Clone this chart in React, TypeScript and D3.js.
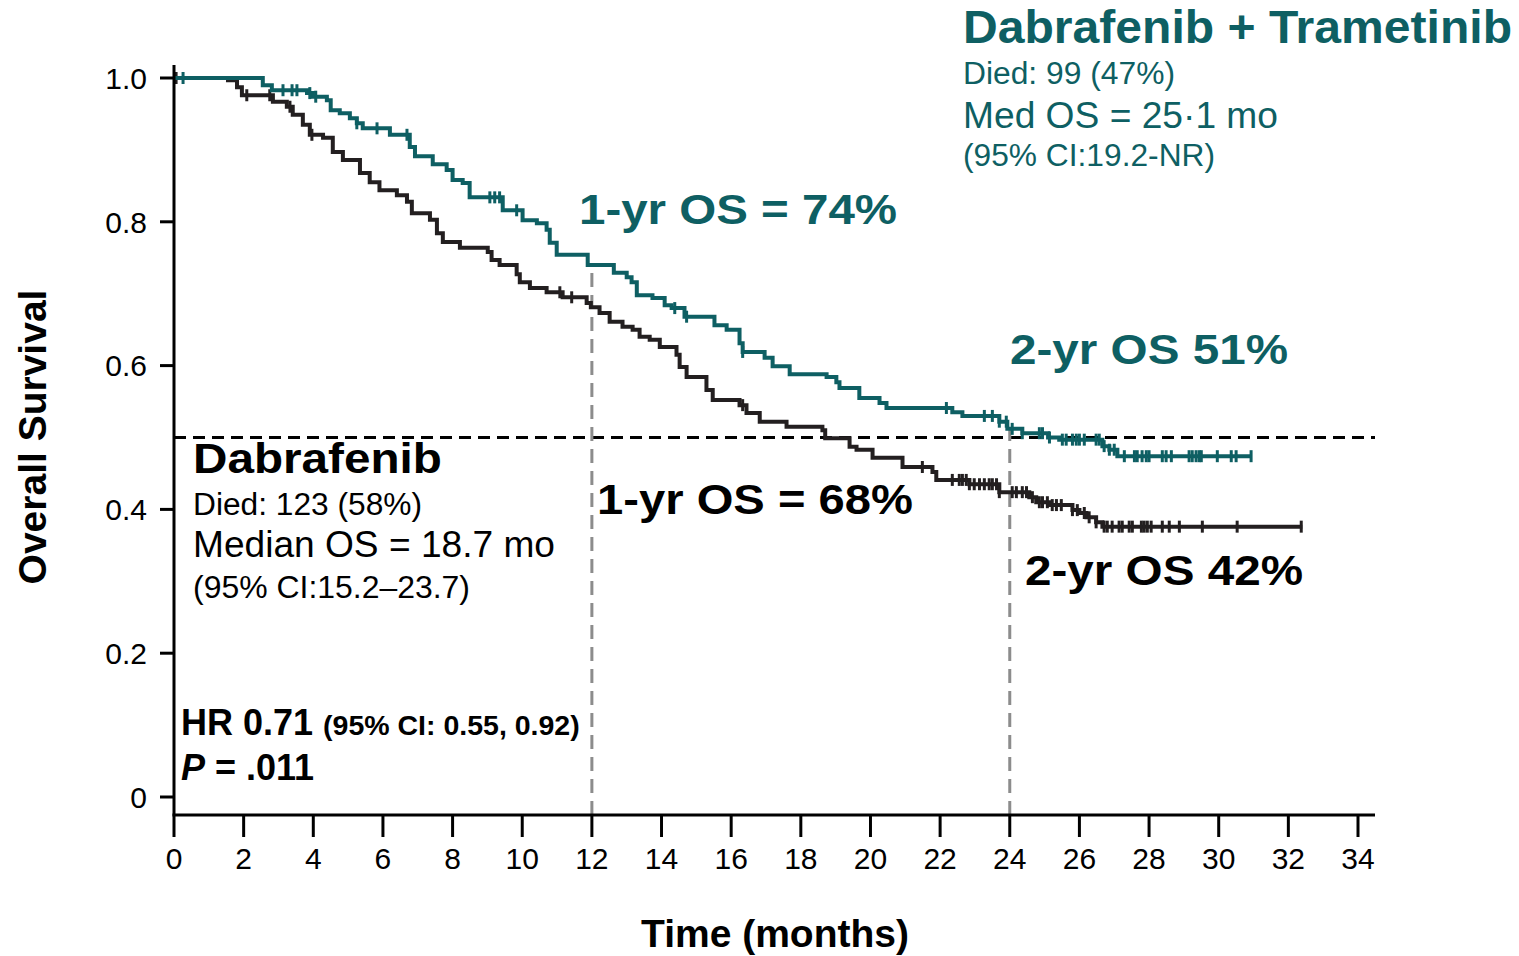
import React from "react";
import * as d3 from "d3";

const TEAL = "#0e5f63";
const DARK = "#231f20";
const GREY = "#8c8c8c";
const FONT = "Arial, 'Liberation Sans', Helvetica, sans-serif";

// Dabrafenib + Trametinib: event times (months) and KM survival after each step
const comboTimes = [0, 2.55, 2.81, 3.82, 3.99, 4.39, 4.5, 4.76, 5.05, 5.25, 5.42, 6.2, 6.77, 6.92, 7.43, 7.83, 8.0, 8.29, 8.49, 9.44, 10.01, 10.42, 10.7, 10.79, 10.99, 11.88, 12.63, 13.0, 13.14, 13.29, 13.74, 14.09, 14.29, 14.66, 15.52, 15.87, 16.24, 16.33, 16.96, 17.19, 17.68, 18.74, 19.02, 19.11, 19.68, 20.26, 20.46, 22.35, 22.64, 23.7, 23.93, 24.36, 25.1, 25.42, 26.66, 26.86, 27.09];
const comboSurvival = [1, 0.99, 0.983, 0.979, 0.974, 0.969, 0.955, 0.951, 0.944, 0.937, 0.93, 0.921, 0.904, 0.891, 0.88, 0.872, 0.858, 0.854, 0.834, 0.816, 0.802, 0.798, 0.789, 0.771, 0.754, 0.74, 0.729, 0.723, 0.716, 0.698, 0.694, 0.684, 0.68, 0.668, 0.656, 0.65, 0.631, 0.619, 0.611, 0.599, 0.588, 0.584, 0.577, 0.569, 0.555, 0.548, 0.541, 0.535, 0.53, 0.522, 0.512, 0.506, 0.5, 0.497, 0.488, 0.483, 0.474];
const comboLastFollowUp = 30.95;
const comboCensored = [0.26, 3.13, 3.39, 3.53, 3.9, 4.07, 5.25, 5.83, 6.69, 9.07, 9.21, 9.35, 9.84, 14.38, 14.72, 16.33, 22.18, 23.27, 23.5, 23.7, 23.9, 24.07, 24.36, 24.85, 24.94, 25.14, 25.51, 25.62, 25.8, 25.91, 26.0, 26.14, 26.48, 26.57, 26.71, 26.86, 27.0, 27.29, 27.58, 27.66, 27.8, 27.92, 28.0, 28.38, 28.49, 28.64, 29.15, 29.24, 29.35, 29.44, 29.5, 29.96, 30.36, 30.5, 30.93];

// Dabrafenib monotherapy
const monoTimes = [0, 1.55, 1.81, 1.95, 2.84, 3.24, 3.41, 3.7, 3.9, 4.28, 4.56, 4.85, 5.34, 5.62, 5.9, 6.4, 6.69, 6.83, 7.35, 7.55, 7.72, 8.21, 9.01, 9.12, 9.35, 9.84, 9.93, 10.22, 10.7, 11.16, 11.85, 11.97, 12.22, 12.51, 12.88, 13.17, 13.37, 13.66, 13.95, 14.43, 14.52, 14.72, 15.29, 15.47, 16.24, 16.44, 16.82, 17.59, 18.62, 18.7, 19.4, 19.6, 20.06, 20.92, 21.78, 21.89, 22.84, 23.7, 24.56, 24.76, 25.14, 25.8, 26.0, 26.2, 26.48, 26.66];
const monoSurvival = [1, 0.997, 0.987, 0.976, 0.967, 0.96, 0.949, 0.935, 0.921, 0.917, 0.897, 0.886, 0.868, 0.855, 0.844, 0.837, 0.828, 0.812, 0.803, 0.784, 0.772, 0.764, 0.758, 0.747, 0.74, 0.727, 0.716, 0.708, 0.702, 0.695, 0.687, 0.681, 0.673, 0.661, 0.654, 0.65, 0.64, 0.636, 0.626, 0.615, 0.598, 0.584, 0.566, 0.552, 0.545, 0.534, 0.522, 0.515, 0.51, 0.499, 0.487, 0.483, 0.472, 0.459, 0.452, 0.441, 0.435, 0.424, 0.417, 0.41, 0.406, 0.399, 0.395, 0.389, 0.382, 0.376];
const monoLastFollowUp = 32.4;
const monoCensored = [0.06, 2.09, 2.75, 3.33, 3.96, 11.08, 11.42, 16.33, 21.49, 22.35, 22.55, 22.64, 22.75, 22.84, 22.98, 23.13, 23.27, 23.41, 23.5, 23.62, 23.7, 24.07, 24.19, 24.36, 24.48, 24.65, 24.85, 24.94, 25.08, 25.22, 25.34, 25.48, 25.8, 25.94, 26.14, 26.28, 26.48, 26.71, 26.8, 26.94, 27.14, 27.23, 27.43, 27.52, 27.78, 27.86, 27.95, 28.06, 28.38, 28.58, 28.87, 29.53, 30.53, 32.37];

const xTickValues = [0, 2, 4, 6, 8, 10, 12, 14, 16, 18, 20, 22, 24, 26, 28, 30, 32, 34];
const yTickValues = [0, 0.2, 0.4, 0.6, 0.8, 1.0];
const yTickLabels = ["0", "0.2", "0.4", "0.6", "0.8", "1.0"];
const landmarkMonths = [12, 24];
const medianLevel = 0.5;

type Pt = [number, number];

function survivalAt(times: number[], surv: number[], t: number): number {
  let s = surv[0];
  for (let i = 0; i < times.length; i++) if (times[i] <= t) s = surv[i];
  return s;
}

function stepPoints(times: number[], surv: number[], end: number): Pt[] {
  const pts: Pt[] = times.map((t, i) => [t, surv[i]] as Pt);
  pts.push([end, surv[surv.length - 1]]);
  return pts;
}

export default function App() {
  const x = d3.scaleLinear().domain([0, 34]).range([174, 1358]);
  const y = d3.scaleLinear().domain([0, 1]).range([797, 78]);
  const axisY = 815;
  const axisRight = 1375;
  const axisTop = 65;

  const line = d3
    .line<Pt>()
    .x((d) => x(d[0]))
    .y((d) => y(d[1]))
    .curve(d3.curveStepAfter);

  const arms = [
    { key: "mono", color: DARK, times: monoTimes, surv: monoSurvival, end: monoLastFollowUp, censored: monoCensored },
    { key: "combo", color: TEAL, times: comboTimes, surv: comboSurvival, end: comboLastFollowUp, censored: comboCensored },
  ];

  return (
    <svg
      width={1519}
      height={956}
      style={{ position: "absolute", left: 0, top: 0, background: "#fff" }}
      fontFamily={FONT}
    >
      {/* reference lines */}
      <line
        x1={x(0)}
        x2={axisRight}
        y1={y(medianLevel)}
        y2={y(medianLevel)}
        stroke="#000"
        strokeWidth={3}
        strokeDasharray="12 7"
      />
      {landmarkMonths.map((m) => (
        <line
          key={m}
          x1={x(m)}
          x2={x(m)}
          y1={axisY}
          y2={y(survivalAt(comboTimes, comboSurvival, m))}
          stroke={GREY}
          strokeWidth={3}
          strokeDasharray="14 8"
        />
      ))}

      {/* survival curves with censoring marks */}
      {arms.map((a) => (
        <g key={a.key}>
          <path d={line(stepPoints(a.times, a.surv, a.end)) || ""} fill="none" stroke={a.color} strokeWidth={4} />
          {a.censored.map((t, i) => {
            const cy = y(survivalAt(a.times, a.surv, t));
            return <line key={i} x1={x(t)} x2={x(t)} y1={cy - 6} y2={cy + 6} stroke={a.color} strokeWidth={3} />;
          })}
        </g>
      ))}

      {/* axes */}
      <line x1={x(0)} x2={x(0)} y1={axisTop} y2={axisY} stroke="#000" strokeWidth={3} />
      <line x1={x(0) - 1.5} x2={axisRight} y1={axisY} y2={axisY} stroke="#000" strokeWidth={3} />
      {yTickValues.map((v, i) => (
        <g key={v}>
          <line x1={x(0) - 14} x2={x(0)} y1={y(v)} y2={y(v)} stroke="#000" strokeWidth={3} />
          <text x={147} y={y(v)} dy="0.36em" textAnchor="end" fontSize={30} fill="#000">
            {yTickLabels[i]}
          </text>
        </g>
      ))}
      {xTickValues.map((v) => (
        <g key={v}>
          <line x1={x(v)} x2={x(v)} y1={axisY} y2={axisY + 22} stroke="#000" strokeWidth={3} />
          <text x={x(v)} y={869} textAnchor="middle" fontSize={30} fill="#000">
            {v}
          </text>
        </g>
      ))}
      <text
        transform="translate(46,437) rotate(-90)"
        textAnchor="middle"
        fontSize={39}
        fontWeight="bold"
        fill="#000"
      >
        Overall Survival
      </text>
      <text x={775} y={947} textAnchor="middle" fontSize={39} fontWeight="bold" fill="#000">
        Time (months)
      </text>

      {/* combination arm summary */}
      <text x={963} y={43} fontSize={46} fontWeight="bold" fill={TEAL} textLength={549} lengthAdjust="spacingAndGlyphs">
        Dabrafenib + Trametinib
      </text>
      <text x={963} y={84} fontSize={31} fill={TEAL} textLength={212} lengthAdjust="spacingAndGlyphs">
        Died: 99 (47%)
      </text>
      <text x={963} y={128} fontSize={36} fill={TEAL} textLength={315} lengthAdjust="spacingAndGlyphs">
        Med OS = 25·1 mo
      </text>
      <text x={963} y={166} fontSize={31} fill={TEAL} textLength={252} lengthAdjust="spacingAndGlyphs">
        (95% CI:19.2-NR)
      </text>

      {/* monotherapy arm summary */}
      <text x={193} y={473} fontSize={43} fontWeight="bold" fill="#000" textLength={249} lengthAdjust="spacingAndGlyphs">
        Dabrafenib
      </text>
      <text x={193} y={515} fontSize={31} fill="#000" textLength={229} lengthAdjust="spacingAndGlyphs">
        Died: 123 (58%)
      </text>
      <text x={193} y={557} fontSize={36} fill="#000" textLength={362} lengthAdjust="spacingAndGlyphs">
        Median OS = 18.7 mo
      </text>
      <text x={193} y={598} fontSize={31} fill="#000" textLength={277} lengthAdjust="spacingAndGlyphs">
        (95% CI:15.2–23.7)
      </text>

      {/* landmark survival labels */}
      <text x={579} y={224} fontSize={43} fontWeight="bold" fill={TEAL} textLength={318} lengthAdjust="spacingAndGlyphs">
        1-yr OS = 74%
      </text>
      <text x={597} y={514} fontSize={43} fontWeight="bold" fill="#000" textLength={316} lengthAdjust="spacingAndGlyphs">
        1-yr OS = 68%
      </text>
      <text x={1010} y={364} fontSize={43} fontWeight="bold" fill={TEAL} textLength={278} lengthAdjust="spacingAndGlyphs">
        2-yr OS 51%
      </text>
      <text x={1025} y={585} fontSize={43} fontWeight="bold" fill="#000" textLength={278} lengthAdjust="spacingAndGlyphs">
        2-yr OS 42%
      </text>

      {/* hazard ratio */}
      <text x={181} y={735} fontWeight="bold" fill="#000">
        <tspan fontSize={36}>HR 0.71 </tspan>
        <tspan fontSize={28.5}>(95% CI: 0.55, 0.92)</tspan>
      </text>
      <text x={181} y={780} fontWeight="bold" fontSize={36} fill="#000">
        <tspan fontStyle="italic">P</tspan>
        <tspan> = .011</tspan>
      </text>
    </svg>
  );
}
